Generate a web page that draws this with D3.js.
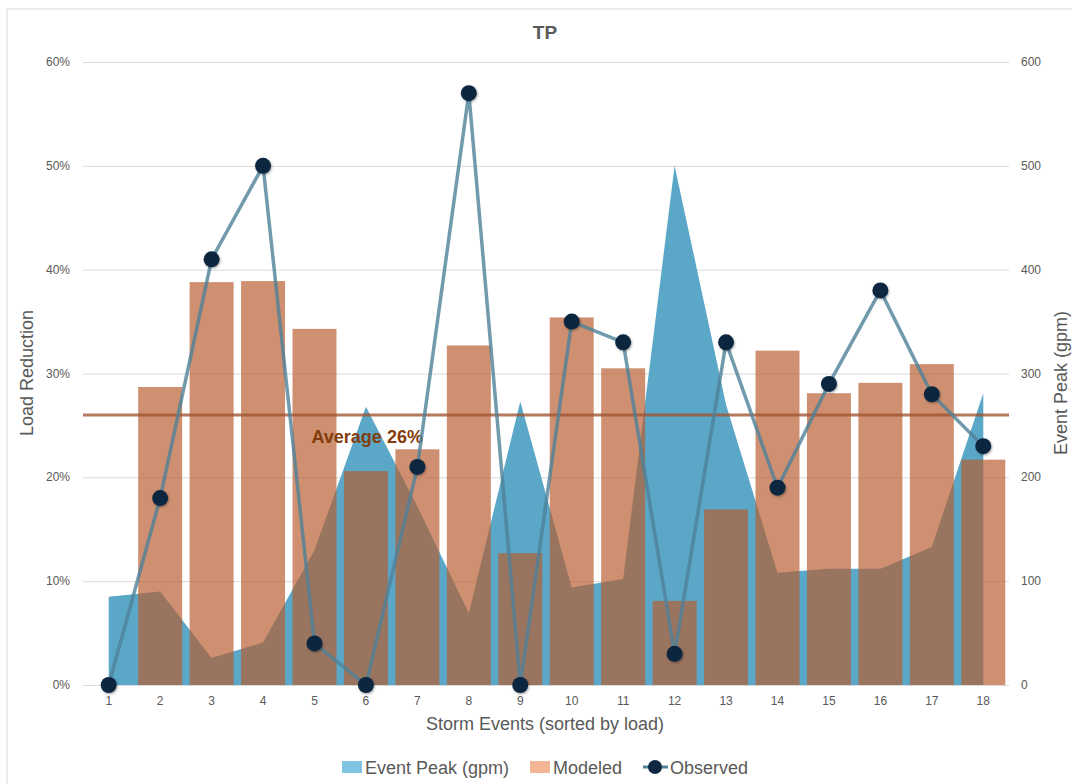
<!DOCTYPE html>
<html>
<head>
<meta charset="utf-8">
<script src="https://cdn.jsdelivr.net/npm/d3@7/dist/d3.min.js"></script>
<style>
  html, body { margin: 0; padding: 0; background: #fff; }
  svg { display: block; }
</style>
</head>
<body>
<svg id="chart" width="1072" height="784"></svg>
<script>
// Storm events, sorted by load
const categories = ["1","2","3","4","5","6","7","8","9","10","11","12","13","14","15","16","17","18"];
// Event peak flow (gpm), right axis
const eventPeak = [85, 90, 26, 41, 130, 268, 172, 69, 273, 94, 102, 500, 270, 108, 112, 112, 133, 281];
// Modeled load reduction (%), left axis; event 1 has no modeled value
const modeled = [null, 28.7, 38.8, 38.9, 34.3, 20.6, 22.7, 32.7, 12.7, 35.4, 30.5, 8.1, 16.9, 32.2, 28.1, 29.1, 30.9, 21.7];
// Observed load reduction (%), left axis
const observed = [0, 18, 41, 50, 4, 0, 21, 57, 0, 35, 33, 3, 33, 19, 29, 38, 28, 23];
const averageReduction = 26;
const leftTicks = [0, 10, 20, 30, 40, 50, 60];
const rightTicks = [0, 100, 200, 300, 400, 500, 600];

const svg = d3.select("#chart");
const plot = { left: 83, right: 1009, top: 62, bottom: 685 };
const grey = "#595959";
const sans = "'Liberation Sans', Arial, sans-serif";

// chart border
svg.append("rect").attr("x", 7).attr("y", 9).attr("width", 1080).attr("height", 790)
  .attr("fill", "none").attr("stroke", "#d9d9d9").attr("stroke-width", 1);

const x = d3.scalePoint().domain(categories).range([plot.left, plot.right]).padding(0.5);
const step = x.step();
const yL = d3.scaleLinear().domain([0, 60]).range([plot.bottom, plot.top]);
const yR = d3.scaleLinear().domain([0, 600]).range([plot.bottom, plot.top]);

// gridlines
svg.append("g").selectAll("line").data(leftTicks).join("line")
  .attr("x1", plot.left).attr("x2", plot.right)
  .attr("y1", d => yL(d) + 0.5).attr("y2", d => yL(d) + 0.5)
  .attr("stroke", "#d9d9d9").attr("stroke-width", 1);

// event peak area
const area = d3.area()
  .x((d, i) => x(categories[i]))
  .y0(yR(0)).y1(d => yR(d));
svg.append("path").datum(eventPeak).attr("d", area)
  .attr("fill", "#5aa7c7");

// modeled bars
const barW = step * 0.855;
svg.append("g").selectAll("rect")
  .data(modeled.map((v, i) => ({ c: categories[i], v })).filter(d => d.v != null))
  .join("rect")
  .attr("x", d => x(d.c) - barW / 2).attr("width", barW)
  .attr("y", d => yL(d.v)).attr("height", d => yL(0) - yL(d.v))
  .attr("fill", "#b75b2e").attr("fill-opacity", 0.68);

// average line
svg.append("line")
  .attr("x1", plot.left).attr("x2", plot.right)
  .attr("y1", yL(averageReduction)).attr("y2", yL(averageReduction))
  .attr("stroke", "#a0532f").attr("stroke-opacity", 0.78).attr("stroke-width", 3);
svg.append("text").attr("x", x("5") - 3).attr("y", yL(averageReduction) + 28)
  .attr("fill", "#843c0c").attr("font-family", "'Liberation Sans Narrow', 'Liberation Sans', Arial, sans-serif")
  .attr("font-weight", "bold").attr("font-size", 18).text("Average " + averageReduction + "%");

// observed line and markers
const defs = svg.append("defs");
const f = defs.append("filter").attr("id", "shadow").attr("x", "-50%").attr("y", "-50%").attr("width", "200%").attr("height", "200%");
f.append("feDropShadow").attr("dx", 0.8).attr("dy", 1.2).attr("stdDeviation", 1.2).attr("flood-color", "#000").attr("flood-opacity", 0.35);

const line = d3.line().x((d, i) => x(categories[i])).y(d => yL(d));
svg.append("path").datum(observed).attr("d", line)
  .attr("fill", "none").attr("stroke", "#4f8199").attr("stroke-opacity", 0.8)
  .attr("stroke-width", 3.5).attr("stroke-linejoin", "round");
svg.append("g").selectAll("circle").data(observed).join("circle")
  .attr("cx", (d, i) => x(categories[i])).attr("cy", d => yL(d)).attr("r", 8)
  .attr("fill", "#0e2841").attr("filter", "url(#shadow)");

// axes labels
svg.append("g").selectAll("text").data(leftTicks).join("text")
  .attr("x", 70).attr("y", d => yL(d) + 4).attr("text-anchor", "end")
  .attr("font-family", sans).attr("font-size", 12).attr("fill", grey)
  .text(d => d + "%");
svg.append("g").selectAll("text").data(rightTicks).join("text")
  .attr("x", 1021).attr("y", d => yR(d) + 4).attr("text-anchor", "start")
  .attr("font-family", sans).attr("font-size", 12).attr("fill", grey)
  .text(d => d);
svg.append("g").selectAll("text").data(categories).join("text")
  .attr("x", d => x(d)).attr("y", plot.bottom + 20).attr("text-anchor", "middle")
  .attr("font-family", sans).attr("font-size", 12).attr("fill", grey)
  .text(d => d);

// titles
svg.append("text").attr("x", 545).attr("y", 39).attr("text-anchor", "middle")
  .attr("font-family", sans).attr("font-weight", "bold").attr("font-size", 19).attr("fill", grey).text("TP");
svg.append("text").attr("transform", "translate(33,373) rotate(-90)").attr("text-anchor", "middle")
  .attr("font-family", sans).attr("font-size", 18).attr("fill", grey).text("Load Reduction");
svg.append("text").attr("transform", "translate(1067,383) rotate(-90)").attr("text-anchor", "middle")
  .attr("font-family", sans).attr("font-size", 18).attr("fill", grey).text("Event Peak (gpm)");
svg.append("text").attr("x", 545).attr("y", 730).attr("text-anchor", "middle")
  .attr("font-family", sans).attr("font-size", 18).attr("fill", grey).text("Storm Events (sorted by load)");

// legend
const lg = svg.append("g").attr("font-family", sans).attr("font-size", 18).attr("fill", grey);
lg.append("rect").attr("x", 342).attr("y", 761).attr("width", 20).attr("height", 12).attr("fill", "#7fc4e3");
lg.append("text").attr("x", 365).attr("y", 774).text("Event Peak (gpm)");
lg.append("rect").attr("x", 530).attr("y", 761).attr("width", 20).attr("height", 12).attr("fill", "#f3b695");
lg.append("text").attr("x", 553).attr("y", 774).text("Modeled");
lg.append("line").attr("x1", 643).attr("x2", 668).attr("y1", 767).attr("y2", 767)
  .attr("stroke", "#4f8199").attr("stroke-width", 3);
lg.append("circle").attr("cx", 655).attr("cy", 767).attr("r", 7).attr("fill", "#0e2841");
lg.append("text").attr("x", 670).attr("y", 774).text("Observed");
</script>
</body>
</html>
